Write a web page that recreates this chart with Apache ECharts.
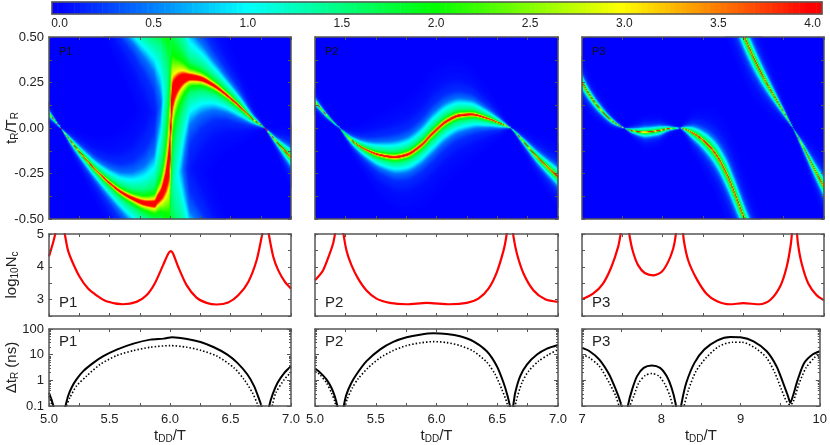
<!DOCTYPE html>
<html><head><meta charset="utf-8">
<style>html,body{margin:0;padding:0;background:#fff}#c{width:830px;height:445px}</style>
<script src="https://cdn.jsdelivr.net/npm/echarts@6/dist/echarts.min.js"></script>
</head><body><div id="c"></div>
<script>
// ---- ridge of the density map: centre and half-width (both in tR/TR)
const p1RidgeX=[5,5.10,5.2,5.3,5.4,5.5,5.6,5.7,5.8,5.874,5.9,5.927,5.963,5.985,5.999,6.007,6.015,6.026,6.048,6.081,6.123,6.164,6.247,6.357,6.468,6.578,6.688,6.785,6.881,7];
const p1RidgeY=[.082,0,-.086,-.165,-.238,-.30,-.352,-.388,-.412,-.416,-.39,-.366,-.302,-.229,-.156,-.027,.119,.183,.224,.256,.275,.28,.273,.238,.183,.119,.049,0,-.073,-.159];
const p1RidgeW=[.015,.0008,.018,.03,.042,.058,.078,.105,.15,.2,.27,.33,.6,.9,1.2,1.15,1,.8,.6,.45,.3,.19,.145,.1,.07,.047,.019,.0008,.016,.04];
const p2RidgeX=[5,5.107,5.204,5.314,5.424,5.534,5.657,5.754,5.864,5.974,6.084,6.194,6.29,6.414,6.524,6.612,6.717,6.827,7];
const p2RidgeY=[.147,.064,0,-.073,-.119,-.147,-.159,-.147,-.101,-.027,.037,.07,.075,.055,.027,0,-.073,-.156,-.266];
const p2RidgeW=[.016,.008,.0008,.019,.035,.052,.065,.07,.075,.08,.076,.068,.058,.038,.019,.0008,.014,.026,.04];
const p3RidgeX=[7,7.095,7.219,7.385,7.53,7.633,7.778,7.964,8.088,8.221,8.378,8.543,8.668,8.792,8.895,9.019,9.123,9.247,9.412,9.536,9.619,9.743,9.868,10];
const p3RidgeY=[.256,.183,.11,.037,0,-.015,-.022,-.013,-.002,0,-.027,-.082,-.147,-.247,-.357,-.5,-.606,-.716,-.844,-.936,-1,-1.101,-1.211,-1.321];
const p3RidgeW=[.032,.025,.019,.011,.0008,.011,.022,.02,.009,.0008,.028,.044,.054,.062,.062,.058,.052,.042,.025,.011,.0008,.016,.029,.042];
// colour level against distance from the ridge, in half-widths
const profileU=[0,.075,.13,.27,.5,1,1.4,2,3,5];
const profileV=[6,4,3,2,1.5,1,.45,.18,.06,0];

// ---- log10 Nc curves (the values between the clipped peaks run off the top of the axis)
const p1NcX=[5,5.019,5.039,5.055,5.066,5.09,5.116,5.13,5.157,5.199,5.254,5.323,5.392,5.474,5.612,5.723,5.806,5.874,5.943,5.985,6.007,6.026,6.068,6.137,6.219,6.302,6.385,6.481,6.564,6.647,6.716,6.757,6.771,6.79,6.81,6.821,6.854,6.895,6.95,7];
const p1NcY=[4.32,4.55,4.81,5.06,5.3,6.6,5.3,5.01,4.5,4.1,3.69,3.335,3.13,2.95,2.858,2.93,3.13,3.49,4.05,4.4,4.48,4.4,3.995,3.44,3.06,2.9,2.85,2.91,3.13,3.54,4.2,4.9,5.2,6.6,5.2,4.9,4.3,3.89,3.54,3.335];
const p2NcX=[5,5.066,5.121,5.149,5.165,5.176,5.2,5.226,5.234,5.259,5.3,5.355,5.424,5.506,5.616,5.754,5.919,6.111,6.249,6.345,6.428,6.497,6.552,6.574,6.585,6.605,6.626,6.634,6.662,6.717,6.799,6.895,7];
const p2NcY=[3.59,3.89,4.4,4.71,5.01,5.3,6.6,5.3,5.01,4.5,4.05,3.64,3.28,3.03,2.9,2.858,2.9,2.858,2.9,3.03,3.335,3.84,4.5,4.91,5.26,6.6,5.26,4.91,4.4,3.79,3.28,3.01,2.93];
const p3NcX=[7,7.137,7.261,7.364,7.447,7.476,7.492,7.534,7.575,7.592,7.633,7.695,7.778,7.881,7.985,8.068,8.13,8.159,8.171,8.208,8.246,8.262,8.316,8.419,8.543,8.668,8.833,8.999,9.205,9.33,9.454,9.537,9.59,9.607,9.634,9.661,9.677,9.723,9.805,9.909,10];
const p3NcY=[3.01,3.18,3.49,3.995,4.6,4.96,5.26,6.6,5.26,4.91,4.45,4.05,3.81,3.74,3.84,4.15,4.55,4.91,5.26,6.6,5.26,4.81,4.2,3.64,3.18,2.96,2.858,2.89,2.858,2.98,3.39,3.995,4.71,5.21,6.6,5.21,4.71,4.1,3.49,3.13,2.98];

// ---- delta tR curves: decade exponents (log10 of ns), solid and dotted; the dips run off the bottom of the axis
const p1SolidX=[5,5.02,5.04,5.055,5.085,5.116,5.136,5.158,5.186,5.227,5.283,5.366,5.449,5.56,5.698,5.837,5.947,6.017,6.141,6.252,6.363,6.474,6.557,6.64,6.695,6.737,6.756,6.778,6.792,6.806,6.82,6.848,6.889,6.945,7];
const p1SolidE=[-.483,-.741,-1.065,-1.39,-2.6,-1.39,-1,-.612,-.289,.035,.358,.681,.94,1.198,1.431,1.586,1.625,1.677,1.612,1.496,1.289,1.004,.681,.228,-.224,-.741,-1,-1.52,-2.6,-1.52,-1,-.547,-.095,.293,.552];
const p1DotX=[5,5.02,5.04,5.08,5.122,5.144,5.172,5.227,5.31,5.421,5.56,5.698,5.837,6.003,6.141,6.252,6.39,6.529,6.612,6.681,6.723,6.751,6.79,6.828,6.848,6.875,6.945,7];
const p1DotE=[-.612,-.9,-1.19,-2.6,-1.32,-1,-.677,-.224,.164,.616,.966,1.16,1.289,1.354,1.289,1.173,.94,.487,.035,-.483,-.935,-1.39,-2.6,-1.39,-.935,-.483,.035,.319];
const p2SolidX=[5,5.039,5.094,5.135,5.162,5.184,5.198,5.212,5.226,5.237,5.259,5.3,5.341,5.424,5.534,5.644,5.754,5.864,5.974,6.084,6.194,6.304,6.414,6.497,6.552,6.585,6.607,6.618,6.629,6.648,6.689,6.744,6.827,6.909,7];
const p2SolidE=[.461,.319,.035,-.289,-.612,-1,-1.39,-2.6,-1.39,-1,-.547,-.095,.229,.746,1.198,1.496,1.677,1.78,1.832,1.806,1.716,1.522,1.134,.552,-.095,-.612,-1.065,-1.39,-1.065,-.483,.164,.616,1.004,1.237,1.379];
const p2DotX=[5,5.039,5.094,5.135,5.162,5.182,5.204,5.215,5.226,5.239,5.264,5.308,5.355,5.437,5.534,5.644,5.754,5.864,5.974,6.084,6.194,6.304,6.414,6.483,6.538,6.579,6.601,6.618,6.634,6.656,6.703,6.758,6.84,6.923,7];
const p2DotE=[.358,.229,-.095,-.483,-.806,-1.19,-1.52,-2.6,-1.52,-1.19,-.741,-.289,.06,.487,.875,1.16,1.354,1.457,1.509,1.47,1.354,1.134,.707,.229,-.353,-.871,-1.39,-2.6,-1.39,-.806,-.095,.358,.746,1.004,1.198];
const p3SolidX=[7,7.095,7.219,7.343,7.426,7.488,7.509,7.53,7.545,7.559,7.583,7.633,7.695,7.778,7.881,7.985,8.068,8.13,8.179,8.2,8.216,8.233,8.262,8.316,8.419,8.543,8.709,8.874,8.999,9.164,9.33,9.454,9.537,9.599,9.628,9.661,9.723,9.805,9.909,10];
const p3SolidE=[1.263,1.134,.81,.229,-.353,-.871,-1.129,-1.517,-2.6,-1.517,-.935,-.353,.164,.487,.578,.487,.164,-.289,-.871,-1.388,-2.6,-1.388,-.806,-.095,.681,1.198,1.56,1.69,1.677,1.522,1.134,.552,-.095,-.612,-.871,-.612,.035,.681,1.004,1.134];
const p3DotX=[7,7.095,7.219,7.343,7.426,7.467,7.509,7.54,7.571,7.604,7.654,7.716,7.799,7.881,7.972,8.047,8.109,8.163,8.192,8.222,8.254,8.283,8.345,8.439,8.564,8.73,8.895,9.019,9.185,9.33,9.433,9.516,9.578,9.628,9.669,9.735,9.826,9.93,10];
const p3DotE=[1.004,.875,.552,-.095,-.612,-1,-1.517,-2.6,-1.517,-1,-.612,-.095,.19,.267,.164,-.159,-.612,-1.194,-1.517,-2.6,-1.517,-1.065,-.353,.358,.875,1.328,1.483,1.483,1.263,.875,.293,-.353,-.806,-.961,-.806,-.159,.487,.875,1.03];

// ---- tick labels and names
const panelNames=['P1','P2','P3'];
const ncLabels=[3,4,5];
const tauMajor=[.1,1,10,100];
const tauMinor=[.2,.3,.4,.5,.6,.7,.8,.9,2,3,4,5,6,7,8,9,20,30,40,50,60,70,80,90];
const barTicks=[0,.5,1,1.5,2,2.5,3,3.5,4];
const barMin=-.04,barMax=4.05,barStep=.03;
const colours=['#0000ff','#00ffff','#00ff00','#ffff00','#ff0000'];

const FONT='"Liberation Sans",Arial,sans-serif', INK='#222', FRAME='#555';
const cols=[{l:49,w:242,x0:5,x1:7,step:.5,fmt:v=>v.toFixed(1)},{l:315,w:243,x0:5,x1:7,step:.5,fmt:v=>v.toFixed(1)},{l:582,w:242,x0:7,x1:10,step:1,fmt:v=>String(v)}];
const rows=[{t:37,h:182},{t:234,h:82},{t:329,h:78}];

const grid=[],xAxis=[],yAxis=[],series=[],heatIdx=[];
function interp(xs,ys,x){let i=0;while(i<xs.length-2&&x>xs[i+1])i++;const t=(x-xs[i])/(xs[i+1]-xs[i]);return ys[i]+(ys[i+1]-ys[i])*t;}
function hermite(xs,ys,x){ // monotone centre line between the read points
  let i=0;while(i<xs.length-2&&x>xs[i+1])i++;
  const h=xs[i+1]-xs[i];
  const sl=k=>{if(k<=0||k>=xs.length-1)return (ys[Math.min(k+1,xs.length-1)]-ys[Math.max(k-1,0)])/(xs[Math.min(k+1,xs.length-1)]-xs[Math.max(k-1,0)]);
    const a=(ys[k]-ys[k-1])/(xs[k]-xs[k-1]),b=(ys[k+1]-ys[k])/(xs[k+1]-xs[k]);return a*b<=0?0:2*a*b/(a+b);};
  const t=(x-xs[i])/h,m0=sl(i)*h,m1=sl(i+1)*h,t2=t*t,t3=t2*t;
  return (2*t3-3*t2+1)*ys[i]+(t3-2*t2+t)*m0+(-2*t3+3*t2)*ys[i+1]+(t3-t2)*m1;
}
function heatCells(px,py,pw,x0,x1,nx,ny){
  const out=[];
  for(let i=0;i<nx;i++){
    const x=x0+(x1-x0)*(i+.5)/nx,c=hermite(px,py,x),w=interp(px,pw,x);
    for(let j=0;j<ny;j++){
      const y=-.5+(j+.5)/ny;
      let d=Math.abs(y-c);d=d%1;if(d>.5)d=1-d;
      const u=d/w;if(u>=5)continue;
      const v=interp(profileU,profileV,u);
      if(v>.015)out.push([i,j,Math.min(v,4)]);
    }
  }
  return out;
}
function idx(n){return Array.from({length:n},(_,i)=>i);}
function pairs(a,b){return a.map((v,i)=>[v,b[i]]);}
function tenPairs(a,e){return a.map((v,i)=>[v,Math.pow(10,e[i])]);}
const RICH15={t:{fontFamily:FONT,fontSize:15,color:INK},s:{fontFamily:FONT,fontSize:10,color:INK,verticalAlign:'bottom',padding:[7,0,0,0]}};
function addXAxes(gi,col,withLabels,name){
  const base={type:'value',gridIndex:gi,min:col.x0,max:col.x1,interval:col.step,z:10,
    splitLine:{show:false},axisLine:{onZero:false,lineStyle:{color:FRAME,width:1.5}},
    axisTick:{inside:true,length:3,lineStyle:{color:FRAME}},
    minorTick:{show:true,splitNumber:2,length:3,lineStyle:{color:FRAME}}};
  xAxis.push(Object.assign({},base,{position:'bottom',
    axisLabel:{show:withLabels,color:INK,fontFamily:FONT,fontSize:13,margin:7,formatter:col.fmt,showMinLabel:true,showMaxLabel:true},
    name:name||'',nameLocation:'middle',nameGap:21,nameMoveOverlap:false,nameTextStyle:{rich:RICH15}}));
  xAxis.push(Object.assign({},base,{position:'top',axisLabel:{show:false}}));
}
function yBase(gi,o){return Object.assign({type:'value',gridIndex:gi,z:10,splitLine:{show:false},
  axisLine:{onZero:false,lineStyle:{color:FRAME,width:1.5}},
  axisTick:{inside:true,length:3,lineStyle:{color:FRAME}}},o);}
const yLabel={color:INK,fontFamily:FONT,fontSize:13,margin:5,showMinLabel:true,showMaxLabel:true};

let gi=0;
// ---- colour bar
const barLevels=[];for(let i=0;barMin+i*barStep<barMax;i++)barLevels.push(barMin+(i+.5)*barStep);
grid.push({left:52,top:2,width:770,height:12});
xAxis.push({type:'category',gridIndex:0,data:idx(barLevels.length),show:false});
yAxis.push({type:'category',gridIndex:0,data:[0],show:false});
xAxis.push({type:'value',gridIndex:0,min:barMin,max:barMax,position:'bottom',z:10,splitLine:{show:false},
  axisLine:{onZero:false,lineStyle:{color:FRAME,width:1.5}},axisTick:{show:false},
  axisLabel:{customValues:barTicks,formatter:v=>v.toFixed(1),color:INK,fontFamily:FONT,fontSize:12,margin:4}});
xAxis.push({type:'value',gridIndex:0,min:barMin,max:barMax,position:'top',z:10,splitLine:{show:false},
  axisLine:{onZero:false,lineStyle:{color:FRAME,width:1.5}},axisTick:{show:false},axisLabel:{show:false}});
yAxis.push(yBase(0,{min:0,max:1,position:'left',axisTick:{show:false},axisLabel:{show:false}}));
yAxis.push(yBase(0,{min:0,max:1,position:'right',axisTick:{show:false},axisLabel:{show:false}}));
heatIdx.push(series.length);
series.push({type:'heatmap',xAxisIndex:0,yAxisIndex:0,data:barLevels.map((v,i)=>[i,0,v]),silent:true,progressive:0,animation:false});
gi=1;

const ridges=[[p1RidgeX,p1RidgeY,p1RidgeW],[p2RidgeX,p2RidgeY,p2RidgeW],[p3RidgeX,p3RidgeY,p3RidgeW]];
const ncs=[[p1NcX,p1NcY],[p2NcX,p2NcY],[p3NcX,p3NcY]];
const taus=[[p1SolidX,p1SolidE,p1DotX,p1DotE],[p2SolidX,p2SolidE,p2DotX,p2DotE],[p3SolidX,p3SolidE,p3DotX,p3DotE]];
const graphics=[];

cols.forEach((col,k)=>{
  const first=k===0;
  // density map
  let r=rows[0],nx=col.w,ny=r.h;
  grid.push({left:col.l,top:r.t,width:col.w,height:r.h,show:true,backgroundColor:'#0000ff',borderWidth:0});
  let xi=xAxis.length,yi=yAxis.length;
  xAxis.push({type:'category',gridIndex:gi,data:idx(nx),show:false});
  yAxis.push({type:'category',gridIndex:gi,data:idx(ny),show:false});
  addXAxes(gi,col,false);
  const heatTop={min:-.5,max:.5,interval:.25,minorTick:{show:true,splitNumber:2,length:3,lineStyle:{color:FRAME}}};
  yAxis.push(yBase(gi,Object.assign({position:'left',axisLabel:Object.assign({show:first,formatter:v=>v.toFixed(2)},yLabel),
    name:first?'{t|t}{s|R}{t|/T}{s|R}':'',nameLocation:'middle',nameGap:29,nameMoveOverlap:false,nameTextStyle:{rich:RICH15}},heatTop)));
  yAxis.push(yBase(gi,Object.assign({position:'right',axisLabel:{show:false}},heatTop)));
  heatIdx.push(series.length);
  series.push({type:'heatmap',xAxisIndex:xi,yAxisIndex:yi,silent:true,progressive:0,animation:false,
    data:heatCells(ridges[k][0],ridges[k][1],ridges[k][2],col.x0,col.x1,nx,ny)});
  graphics.push({type:'text',left:col.l+10,top:r.t+9,z:20,style:{text:panelNames[k],fontFamily:FONT,fontSize:11,fill:'#111'}});
  gi++;

  // log10 Nc
  r=rows[1];
  grid.push({left:col.l,top:r.t,width:col.w,height:r.h});
  xi=xAxis.length;yi=yAxis.length;
  addXAxes(gi,col,false);
  const ncAxis={min:2.5,max:5,interval:.5};
  yAxis.push(yBase(gi,Object.assign({position:'left',axisLabel:Object.assign({show:first,formatter:v=>ncLabels.includes(v)?String(v):''},yLabel),
    name:first?'{t|log}{s|10}{t|N}{s|c}':'',nameLocation:'middle',nameGap:29,nameMoveOverlap:false,nameTextStyle:{rich:RICH15}},ncAxis)));
  yAxis.push(yBase(gi,Object.assign({position:'right',axisLabel:{show:false}},ncAxis)));
  series.push({type:'line',xAxisIndex:xi,yAxisIndex:yi,showSymbol:false,silent:true,animation:false,clip:true,
    smooth:.25,lineStyle:{color:'#ff0000',width:2.2},data:pairs(ncs[k][0],ncs[k][1])});
  graphics.push({type:'text',left:col.l+10,top:r.t+61,z:20,style:{text:panelNames[k],fontFamily:FONT,fontSize:15,fill:INK}});
  gi++;

  // delta tR
  r=rows[2];
  grid.push({left:col.l,top:r.t,width:col.w,height:r.h});
  xi=xAxis.length;yi=yAxis.length;
  addXAxes(gi,col,true,'{t|t}{s|DD}{t|/T}');
  const tauAxis={type:'log',logBase:10,min:.1,max:100};
  yAxis.push(yBase(gi,Object.assign({position:'left',
    axisTick:{inside:true,length:4,customValues:tauMajor,lineStyle:{color:FRAME}},
    axisLabel:Object.assign({show:first,customValues:tauMajor,formatter:v=>String(v)},yLabel),
    name:first?'{t|\u0394t}{s|R}{t| (ns)}':'',nameLocation:'middle',nameGap:29,nameMoveOverlap:false,nameTextStyle:{rich:RICH15}},tauAxis)));
  yAxis.push(yBase(gi,Object.assign({position:'right',axisLabel:{show:false},
    axisTick:{inside:true,length:4,customValues:tauMajor,lineStyle:{color:FRAME}}},tauAxis)));
  yAxis.push(yBase(gi,Object.assign({position:'left',axisLabel:{show:false},axisLine:{show:false},
    axisTick:{inside:true,length:2,customValues:tauMinor,lineStyle:{color:FRAME}}},tauAxis)));
  yAxis.push(yBase(gi,Object.assign({position:'right',axisLabel:{show:false},axisLine:{show:false},
    axisTick:{inside:true,length:2,customValues:tauMinor,lineStyle:{color:FRAME}}},tauAxis)));
  series.push({type:'line',xAxisIndex:xi,yAxisIndex:yi,showSymbol:false,silent:true,animation:false,clip:true,
    smooth:.25,lineStyle:{color:'#000',width:2},data:tenPairs(taus[k][0],taus[k][1])});
  series.push({type:'line',xAxisIndex:xi,yAxisIndex:yi,showSymbol:false,silent:true,animation:false,clip:true,
    smooth:.25,lineStyle:{color:'#000',width:1.6,type:[1.5,2]},data:tenPairs(taus[k][2],taus[k][3])});
  graphics.push({type:'text',left:col.l+10,top:r.t+5,z:20,style:{text:panelNames[k],fontFamily:FONT,fontSize:15,fill:INK}});
  gi++;
});

const chart=echarts.init(document.getElementById('c'),null,{renderer:'canvas'});
chart.setOption({animation:false,backgroundColor:'#fff',grid,xAxis,yAxis,series,graphic:graphics,
  visualMap:[{show:false,type:'continuous',min:0,max:4,dimension:2,seriesIndex:heatIdx,inRange:{color:colours}}]});
</script></body></html>
